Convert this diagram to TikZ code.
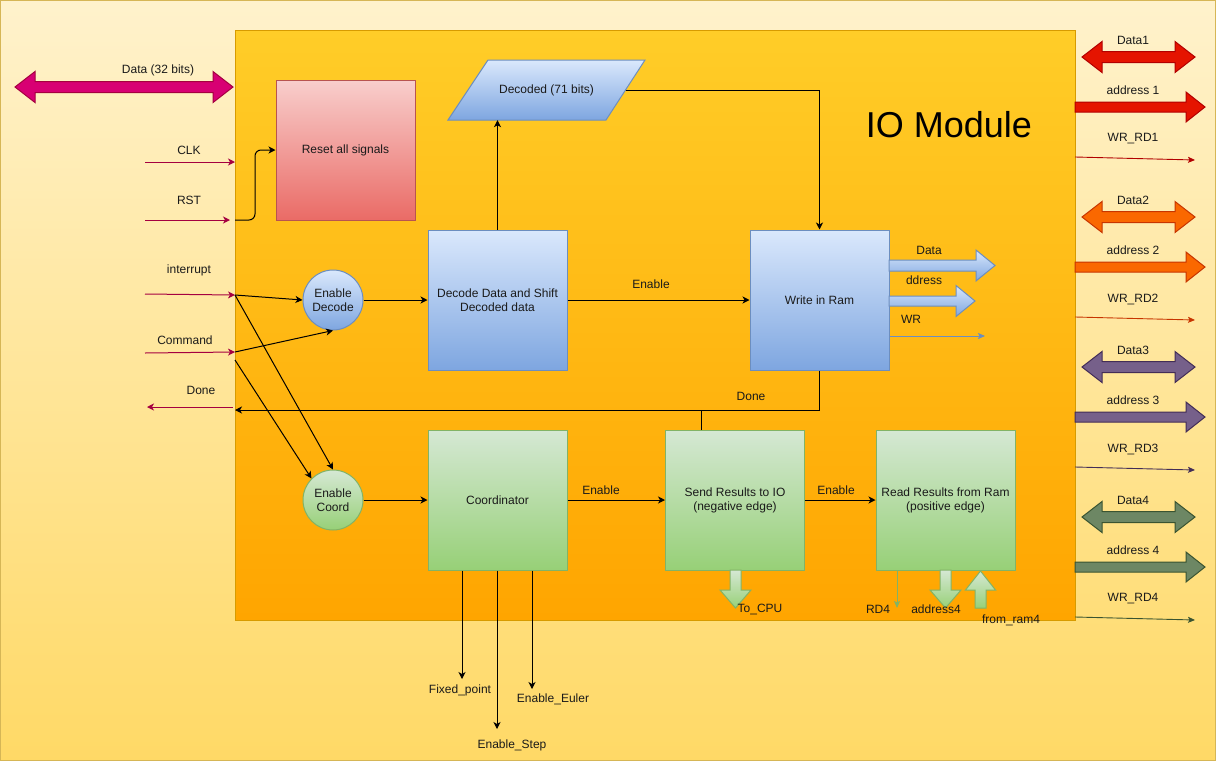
\documentclass[tikz,border=0pt]{standalone}
\usepackage{fontspec}
\setmainfont{Liberation Sans}
\usetikzlibrary{arrows.meta,shapes.geometric}
\definecolor{bgTop}{HTML}{FFF2CC}\definecolor{bgBot}{HTML}{FFD966}\definecolor{bgLine}{HTML}{D6B656}
\definecolor{modTop}{HTML}{FFCD28}\definecolor{modBot}{HTML}{FFA500}\definecolor{modLine}{HTML}{D79B00}
\definecolor{redTop}{HTML}{F8CECC}\definecolor{redBot}{HTML}{EA6B66}\definecolor{redLine}{HTML}{B85450}
\definecolor{bluTop}{HTML}{DAE8FC}\definecolor{bluBot}{HTML}{7EA6E0}\definecolor{bluLine}{HTML}{6C8EBF}
\definecolor{grnTop}{HTML}{D5E8D4}\definecolor{grnBot}{HTML}{97D077}\definecolor{grnLine}{HTML}{82B366}
\definecolor{mag}{HTML}{D80073}\definecolor{magL}{HTML}{A50040}
\definecolor{cA}{HTML}{E51400}\definecolor{cAL}{HTML}{B20000}
\definecolor{cB}{HTML}{FA6800}\definecolor{cBL}{HTML}{C73500}
\definecolor{cC}{HTML}{76608A}\definecolor{cCL}{HTML}{432D57}
\definecolor{cD}{HTML}{6D8764}\definecolor{cDL}{HTML}{3A5431}
\definecolor{txt}{HTML}{1A1A1A}
% double horizontal block arrow: x1, x2, y, style
\newcommand\dblarr[4]{\path[#4] (#1,#3) -- ({#1+20},{#3-15.5}) -- ({#1+20},{#3-5.5}) -- ({#2-20},{#3-5.5}) -- ({#2-20},{#3-15.5}) -- (#2,#3) -- ({#2-20},{#3+15.5}) -- ({#2-20},{#3+5.5}) -- ({#1+20},{#3+5.5}) -- ({#1+20},{#3+15.5}) -- cycle;}
% right block arrow: x1, x2, y, halfshaft, halfhead, headlen, style
\newcommand\rarr[7]{\path[#7] (#1,{#3-#4}) -- ({#2-#6},{#3-#4}) -- ({#2-#6},{#3-#5}) -- (#2,#3) -- ({#2-#6},{#3+#5}) -- ({#2-#6},{#3+#4}) -- (#1,{#3+#4}) -- cycle;}
% vertical block arrow: x, y1, ytip, halfshaft, halfhead, signed headlen, style
\newcommand\varr[7]{\path[#7] ({#1-#4},#2) -- ({#1-#4},{#3-(#6)}) -- ({#1-#5},{#3-(#6)}) -- (#1,#3) -- ({#1+#5},{#3-(#6)}) -- ({#1+#4},{#3-(#6)}) -- ({#1+#4},#2) -- cycle;}
\begin{document}
\begin{tikzpicture}[x=1pt,y=-1pt,
  every node/.style={font=\fontsize{12}{14}\selectfont, text=txt},
  lbl/.style={inner sep=0pt},
  box/.style={draw, line width=1pt, minimum width=139, minimum height=140, align=center, inner sep=2pt},
  redbox/.style={box, draw=redLine, top color=redTop, bottom color=redBot},
  blubox/.style={box, draw=bluLine, top color=bluTop, bottom color=bluBot},
  grnbox/.style={box, draw=grnLine, top color=grnTop, bottom color=grnBot},
  bub/.style={circle, draw, line width=1pt, minimum size=60, inner sep=0pt, align=center},
  arr/.style={draw=black, line width=1pt, -{Stealth[length=7pt,width=7pt,inset=2pt]}},
  plain/.style={draw=black, line width=1pt},
  sig/.style={draw=magL, line width=1pt, -{Stealth[length=7pt,width=7pt,inset=2pt]}},
  thinarr/.style={line width=0.9pt, -{Stealth[length=7pt,width=6pt,inset=1.5pt]}},
  blockA/.style={fill=#1, draw=#1L, line width=1pt},
  bluearr/.style={top color=bluTop, bottom color=bluBot, draw=bluLine, line width=1pt},
  grnarr/.style={top color=grnTop, bottom color=grnBot, draw=grnLine, line width=1pt}
]
\useasboundingbox (0,0) rectangle (1216,761);
% background
\path[top color=bgTop, bottom color=bgBot, draw=bgLine, line width=1pt] (0.5,0.5) rectangle (1215.5,760.5);
% module
\node[draw=modLine, top color=modTop, bottom color=modBot, minimum width=840, minimum height=590, inner sep=0pt, line width=1pt] (mod) at (655,325) {};
\node[font=\fontsize{36}{40}\selectfont, text=black] (title) at (949,125) {IO Module};

% blocks
\node[redbox] (reset) at (345.5,150) {Reset all signals};
\node[blubox] (decode) at (497.5,300) {Decode Data and Shift\\Decoded data};
\node[blubox] (wram) at (819.5,300) {Write in Ram};
\path[draw=bluLine, line width=1pt, top color=bluTop, bottom color=bluBot]
  (448,120) -- (488,60) -- (645,60) -- (606,120) -- cycle;
\node[minimum width=158, minimum height=60, inner sep=0pt] (dec) at (546.5,90) {Decoded (71 bits)};
\node[grnbox] (coord) at (497.5,500) {Coordinator};
\node[grnbox] (send) at (735,500) {Send Results to IO\\(negative edge)};
\node[grnbox] (read) at (945.5,500) {Read Results from Ram\\(positive edge)};
\node[bub, draw=bluLine, top color=bluTop, bottom color=bluBot] (endec) at (333,300) {Enable\\Decode};
\node[bub, draw=grnLine, top color=grnTop, bottom color=grnBot] (encoord) at (333,500) {Enable\\Coord};

% left signals
\dblarr{15}{233}{87}{fill=mag, draw=magL, line width=1pt}
\node[lbl] (lData) at (158,70) {Data (32 bits)};
\coordinate (clkS) at (145,162); \coordinate (clkE) at (235,162);
\coordinate (rstS) at (145,220); \coordinate (rstE) at (230,220); \coordinate (rstB) at (235,220);
\coordinate (intS) at (145,294); \coordinate (intE) at (235,295);
\coordinate (cmdS) at (145,353); \coordinate (cmdE) at (235,352); \coordinate (cmdE2) at (235,360);
\coordinate (doneS) at (233,407); \coordinate (doneE) at (147,407);
\coordinate (doneIn) at (235,410);
\draw[sig] (clkS) -- (clkE);
\draw[sig] (rstS) -- (rstE);
\draw[sig] (intS) -- (intE);
\draw[sig] (cmdS) -- (cmdE);
\draw[sig] (doneS) -- (doneE);
\node[lbl] (lClk) at (189,150) {CLK};
\node[lbl] (lRst) at (189,200) {RST};
\node[lbl] (lInt) at (189,270) {interrupt};
\node[lbl] (lCmd) at (185,340) {Command};
\node[lbl] (lDone) at (201,390) {Done};

% internal connectors
\draw[arr, rounded corners=6pt] (rstB) -- (255,220) -- (255,150) -- (reset.west);
\draw[arr] (intE) -- (endec.west);
\draw[arr] (cmdE) -- (endec.south);
\draw[arr] (intE) -- (encoord.north);
\draw[arr] (cmdE2) -- (encoord.north west);
\draw[arr] (endec.east) -- (decode.west);
\draw[arr] (decode.north) -- (decode.north |- dec.south);
\draw[arr] (dec.east) -| (wram.north);
\draw[arr] (decode.east) -- (wram.west);
\node[lbl] (lEn1) at (651,284) {Enable};
\draw[arr] (wram.south) |- (doneIn);
\draw[plain] ([xshift=36pt]send.north west) -- ++(0,-20);
\node[lbl] (lDone2) at (751,396) {Done};
\draw[arr] (encoord.east) -- (coord.west);
\draw[arr] (coord.east) -- (send.west);
\node[lbl] (lEn2) at (601,490) {Enable};
\draw[arr] (send.east) -- (read.west);
\node[lbl] (lEn3) at (836,490) {Enable};

% coordinator outputs
\coordinate (fpE) at (462,679); \coordinate (stE) at (497,729); \coordinate (euE) at (532,689);
\draw[arr] (coord.south -| fpE) -- (fpE);
\draw[arr] (coord.south -| stE) -- (stE);
\draw[arr] (coord.south -| euE) -- (euE);
\node[lbl] (lFp) at (460,690) {Fixed\_point};
\node[lbl] (lSt) at (512,745) {Enable\_Step};
\node[lbl] (lEu) at (553,699) {Enable\_Euler};

% write-in-ram outputs
\rarr{889}{995}{265.5}{5.5}{15.5}{19}{bluearr}
\rarr{889}{975}{301}{5}{15.5}{19}{bluearr}
\coordinate (wrE) at (985,336);
\draw[thinarr, bluLine] (wram.east |- wrE) -- (wrE);
\node[lbl] (lWD) at (929,250) {Data};
\node[lbl] (lWA) at (924,280) {ddress};
\node[lbl] (lWR) at (911,319) {WR};

% bottom green arrows
\varr{735.5}{570}{608}{5.5}{15.5}{18}{grnarr}
\varr{945.5}{570}{608}{5.5}{15.5}{18}{grnarr}
\varr{980.5}{608}{571}{5.5}{15}{-19}{grnarr}
\coordinate (rdE) at (897,608);
\draw[thinarr, grnLine] (read.south -| rdE) -- (rdE);
\node[lbl] (lCpu) at (760,609) {To\_CPU};
\node[lbl] (lRd4) at (878,609) {RD4};
\node[lbl] (lA4) at (936,609) {address4};
\node[lbl] (lFr) at (1011,620) {from\_ram4};

% right side buses
\dblarr{1082}{1195}{57}{blockA=cA}
\rarr{1075}{1205}{107}{5}{15}{19}{blockA=cA}
\draw[thinarr, cAL] (1075,157) -- (1195,160);
\dblarr{1082}{1195}{217}{blockA=cB}
\rarr{1075}{1205}{267}{5}{15}{19}{blockA=cB}
\draw[thinarr, cBL] (1075,317) -- (1195,320);
\dblarr{1082}{1195}{367}{blockA=cC}
\rarr{1075}{1205}{417}{5}{15}{19}{blockA=cC}
\draw[thinarr, cCL] (1075,467) -- (1195,470);
\dblarr{1082}{1195}{517}{blockA=cD}
\rarr{1075}{1205}{567}{5}{15}{19}{blockA=cD}
\draw[thinarr, cDL] (1075,617) -- (1195,620);
\node[lbl] (lD1) at (1133,40) {Data1};
\node[lbl] (lA1) at (1133,90) {address 1};
\node[lbl] (lW1) at (1133,139) {WR\_RD1};
\node[lbl] (lD2) at (1133,200) {Data2};
\node[lbl] (lA2) at (1133,250) {address 2};
\node[lbl] (lW2) at (1133,299) {WR\_RD2};
\node[lbl] (lD3) at (1133,350) {Data3};
\node[lbl] (lA3) at (1133,400) {address 3};
\node[lbl] (lW3) at (1133,449) {WR\_RD3};
\node[lbl] (lD4) at (1133,500) {Data4};
\node[lbl] (lA4r) at (1133,550) {address 4};
\node[lbl] (lW4) at (1133,599) {WR\_RD4};
\end{tikzpicture}
\end{document}
